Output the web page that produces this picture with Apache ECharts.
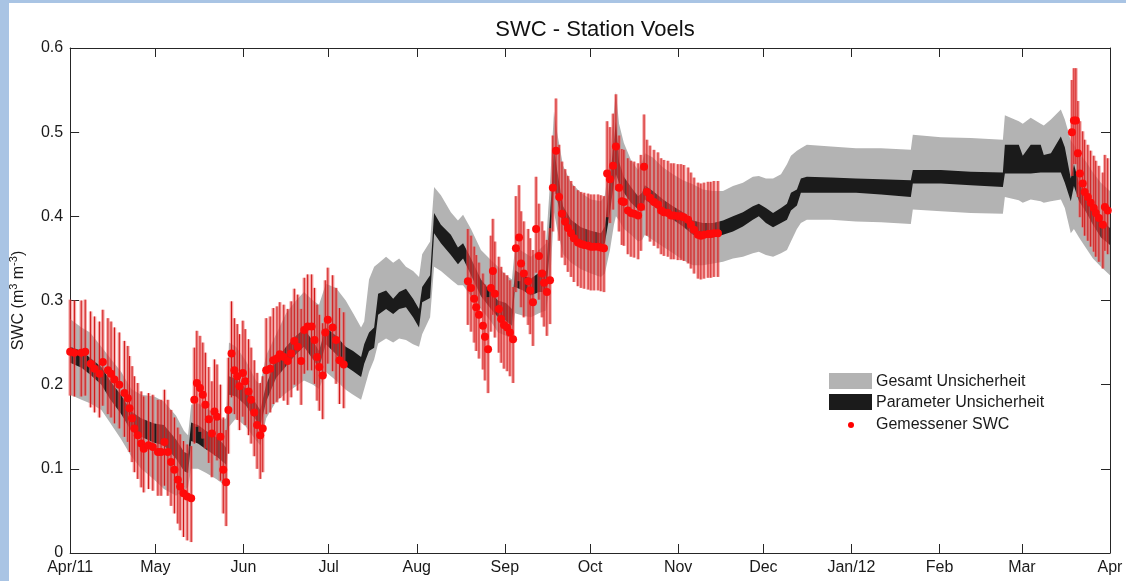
<!DOCTYPE html>
<html>
<head>
<meta charset="utf-8">
<title>SWC - Station Voels</title>
<script src="https://cdn.jsdelivr.net/npm/echarts@6/dist/echarts.min.js"></script>
<style>
  html, body { margin: 0; padding: 0; background: #fff; }
  #chart { position: absolute; left: 0; top: 0; width: 1126px; height: 581px; }
  .edge-left { position: absolute; left: 0; top: 0; width: 9px; height: 581px; background: #a9c4e4; }
  .edge-top { position: absolute; left: 0; top: 0; width: 1126px; height: 3px; background: #a9c4e4; }
</style>
</head>
<body>
<div id="chart"></div>
<div class="edge-left"></div>
<div class="edge-top"></div>
<script>
// x values are days since 2011-04-01
var monthDays = [0, 30, 61, 91, 122, 153, 183, 214, 244, 275, 306, 335, 366];
var monthLabels = ['Apr/11', 'May', 'Jun', 'Jul', 'Aug', 'Sep', 'Oct', 'Nov', 'Dec', 'Jan/12', 'Feb', 'Mar', 'Apr'];
var yTickLabels = ['0', '0.1', '0.2', '0.3', '0.4', '0.5', '0.6'];

// simulated SWC: total uncertainty (gray) and parameter uncertainty (black)
var modelDay = [
  0, 4, 7, 11, 14, 18, 21.5, 25, 29.6, 33,
  37.3, 40.1, 41.5, 42.6, 45, 47.9, 51.4, 53.8, 54.9, 55.9,
  58.4, 61.9, 65.4, 66.9, 69, 72.5, 76, 79.5, 82.3, 85.5,
  87.6, 90, 93.6, 97, 99.6, 102.4, 103.5, 105.2, 107, 108.4,
  111.2, 113.7, 115.8, 118.2, 120.7, 122.8, 123.9, 126.7, 128.1, 130.5,
  134, 136.5, 138.3, 141.1, 144.6, 148.1, 150.6, 153.4, 155.5, 156.6,
  159.4, 162.2, 165, 167.5, 168.9, 170.3, 171.4, 173.5, 176.3, 179.8,
  183.3, 186.8, 188.2, 190, 191.4, 192.1, 193.2, 194.9, 197.4, 199.9,
  201.3, 202.3, 205.1, 208.7, 212.2, 215.7, 219.2, 222.7, 226.3, 229.8,
  233.3, 236.8, 240.3, 242.4, 244.9, 247.4, 250.2, 252.3, 253.7, 255.8,
  257.2, 259.3, 267.8, 276.6, 285.4, 295.9, 296.6, 306.5, 317, 328.3,
  329, 333.9, 335.3, 338.1, 341.6, 342.7, 345.2, 348.7, 350.1, 352.2,
  353.3, 355.1, 357.6, 360, 362.8, 366
];
var grayHigh = [
  .278, .268, .262, .245, .232, .215, .195, .188, .186, .180,
  .163, .145, .140, .176, .178, .172, .165, .158, .160, .250,
  .245, .228, .205, .200, .235, .260, .285, .300, .310, .300,
  .295, .320, .315, .300, .285, .268, .275, .325, .340, .344,
  .352, .345, .350, .340, .335, .328, .355, .370, .435, .425,
  .405, .395, .402, .385, .360, .348, .340, .330, .325, .364,
  .358, .352, .360, .368, .440, .525, .500, .460, .440, .428,
  .420, .418, .425, .470, .525, .548, .510, .487, .467, .455,
  .465, .475, .470, .458, .450, .443, .438, .432, .430, .430,
  .436, .440, .447, .448, .445, .445, .450, .462, .472, .478,
  .481, .485, .483, .481, .481, .479, .497, .494, .493, .491,
  .520, .513, .510, .517, .510, .508, .515, .527, .515, .490,
  .485, .475, .465, .452, .440, .430
];
var blackHigh = [
  .245, .240, .232, .221, .205, .187, .168, .160, .154, .152,
  .135, .120, .118, .155, .152, .145, .138, .130, .125, .210,
  .207, .195, .178, .170, .200, .230, .245, .258, .266, .252,
  .240, .268, .258, .245, .240, .233, .248, .262, .268, .308,
  .312, .302, .310, .314, .302, .290, .316, .330, .404, .390,
  .378, .363, .368, .350, .325, .310, .300, .297, .290, .336,
  .330, .326, .333, .335, .400, .480, .455, .412, .396, .387,
  .383, .380, .388, .445, .490, .512, .465, .447, .435, .424,
  .428, .437, .430, .420, .412, .405, .395, .392, .392, .395,
  .400, .405, .412, .415, .410, .404, .410, .415, .428, .432,
  .445, .447, .446, .445, .444, .443, .455, .455, .453, .452,
  .485, .485, .472, .485, .485, .473, .475, .495, .482, .445,
  .462, .440, .425, .410, .396, .386
];
var blackLow = [
  .226, .220, .212, .200, .183, .165, .145, .138, .131, .128,
  .112, .097, .095, .133, .130, .123, .115, .108, .105, .188,
  .186, .175, .158, .150, .180, .208, .222, .236, .245, .230,
  .220, .248, .236, .222, .216, .209, .225, .240, .244, .283,
  .290, .284, .290, .292, .280, .268, .298, .303, .380, .368,
  .354, .343, .350, .330, .305, .290, .280, .276, .270, .316,
  .312, .306, .310, .310, .360, .440, .420, .390, .378, .371,
  .368, .365, .368, .405, .440, .450, .440, .428, .416, .408,
  .410, .420, .413, .404, .396, .388, .378, .375, .375, .378,
  .382, .388, .396, .400, .392, .387, .392, .396, .407, .413,
  .428, .428, .428, .428, .426, .423, .439, .439, .437, .435,
  .451, .451, .451, .451, .452, .452, .452, .452, .440, .418,
  .436, .418, .405, .390, .375, .366
];
var grayLow = [
  .188, .182, .178, .170, .155, .135, .115, .100, .087, .076,
  .068, .075, .078, .100, .100, .095, .088, .082, .085, .150,
  .160, .150, .134, .128, .160, .180, .190, .198, .205, .200,
  .195, .215, .205, .194, .188, .182, .195, .215, .230, .249,
  .255, .250, .255, .253, .248, .245, .260, .280, .340, .335,
  .325, .318, .318, .305, .290, .275, .262, .258, .255, .285,
  .282, .280, .285, .288, .320, .405, .385, .355, .345, .337,
  .332, .328, .332, .360, .390, .400, .395, .385, .378, .370,
  .372, .378, .372, .364, .356, .348, .342, .342, .344, .346,
  .350, .352, .356, .358, .354, .352, .356, .360, .370, .385,
  .392, .396, .396, .394, .393, .391, .408, .406, .404, .403,
  .423, .419, .416, .420, .418, .416, .418, .420, .410, .380,
  .385, .375, .362, .350, .340, .330
];

// measured SWC (red dots) and error bar extent
var measDay = [
  0, 1.5, 3.9, 5.3, 7.2, 8.6, 10.3, 11.5, 13.3, 14.4,
  15.6, 17.3, 19.1, 20.3, 20.9, 21.8, 22.6, 23.8, 25, 25.9,
  27.6, 29.1, 30.9, 32, 33.2, 34.4, 35.5, 36.7, 37.9, 38.7,
  39.9, 41.2, 42.6, 43.7, 44.6, 45.7, 46.7, 47.6, 48.8, 49.9,
  50.8, 51.7, 52.9, 53.9, 54.9, 55.7, 56.8, 57.8, 58.8, 59.6,
  60.8, 61.6, 62.8, 63.7, 64.8, 65.8, 66.9, 67.8, 69, 70.4,
  71.5, 72.8, 73.8, 75.2, 76.6, 77.8, 78.9, 80.1, 81.3, 82.4,
  83.6, 85, 86, 86.9, 87.7, 88.9, 89.8, 90.7, 92.4, 93.6,
  94.8, 96.3,
  140, 141.1, 142.2, 142.9, 143.9, 145.3, 146, 147.1, 148.1, 148.8,
  149.5, 150.9, 151.7, 152.7, 153.8, 154.8, 155.9, 156.9, 158, 158.7,
  159.7, 161.2, 161.9, 162.9, 164, 165, 166.1, 166.8, 167.8, 168.9,
  169.9, 171, 172.1, 173.1, 174.2, 175.2, 176.3, 177.3, 178.7, 179.8,
  180.9, 182.3, 183.3, 184.4, 185.8, 186.8, 187.9, 189, 190, 191.1,
  192.1, 193.2, 194.2, 194.9, 196.3, 197.4, 198.5, 199.9, 200.9, 202,
  203, 204.1, 205.5, 206.9, 208, 209, 210.4, 211.5, 212.5, 213.9,
  215, 216, 217.5, 218.5, 219.6, 221, 222, 223.1, 224.5, 225.5,
  226.6, 228,
  352.6, 353.3, 354, 354.7, 355.4, 356.4, 357.1, 358.2, 359.2, 360.3,
  361, 362.1, 363.5, 364.2, 365.2
];
var measSWC = [
  .239, .238, .238, .239, .225, .219, .213, .227, .217, .213,
  .206, .200, .190, .184, .172, .160, .148, .140, .130, .124,
  .128, .126, .120, .120, .132, .120, .108, .099, .087, .079,
  .071, .067, .065, .182, .202, .196, .188, .176, .159, .142,
  .168, .162, .138, .099, .084, .170, .237, .217, .210, .198,
  .214, .204, .192, .182, .167, .152, .140, .148, .217, .219,
  .229, .231, .236, .233, .228, .237, .252, .245, .228, .265,
  .269, .269, .253, .233, .221, .211, .262, .277, .268, .253,
  .229, .224,
  .323, .315, .302, .292, .283, .270, .257, .242, .315, .335,
  .308, .290, .278, .271, .268, .262, .254, .362, .375, .344,
  .332, .323, .312, .298, .385, .353, .332, .321, .310, .324,
  .434, .478, .423, .403, .394, .386, .380, .374, .369, .367,
  .366, .365, .364, .364, .364, .363, .362, .451, .444, .460,
  .483, .434, .418, .417, .407, .404, .403, .401, .411, .459,
  .429, .422, .417, .414, .407, .405, .404, .401, .401, .400,
  .400, .399, .396, .390, .384, .378, .377, .378, .379, .379,
  .380, .380,
  .500, .514, .514, .475, .451, .439, .429, .423, .416, .410,
  .404, .398, .390, .411, .407
];
var errUp = 0.062;
var errDown = 0.052;

var FONT = '"Liberation Sans", Arial, Helvetica, sans-serif';
var AXIS_COLOR = '#262626';

function bandSeries(name, lo, hi, color, z) {
  return {
    name: name,
    type: 'custom',
    silent: true,
    z: z,
    data: [[0, 0]],
    encode: { x: 0, y: 1 },
    renderItem: function (params, api) {
      var pts = [];
      for (var i = 0; i < modelDay.length; i++) pts.push(api.coord([modelDay[i], hi[i]]));
      for (var j = modelDay.length - 1; j >= 0; j--) pts.push(api.coord([modelDay[j], lo[j]]));
      return { type: 'polygon', shape: { points: pts }, style: { fill: color } };
    }
  };
}

var barData = measDay.map(function (d, i) { return [d, measSWC[i] - errDown, measSWC[i] + errUp]; });
var dotData = measDay.map(function (d, i) { return [d, measSWC[i]]; });

function xAxisBase(pos) {
  return {
    type: 'value', min: 0, max: 366, position: pos,
    axisLine: { show: true, onZero: false, lineStyle: { color: AXIS_COLOR, width: 1 } },
    axisTick: { show: true, inside: true, length: 9, customValues: monthDays, lineStyle: { color: AXIS_COLOR } },
    splitLine: { show: false }
  };
}
function yAxisBase(pos) {
  return {
    type: 'value', min: 0, max: 0.6, interval: 0.1, position: pos,
    axisLine: { show: true, onZero: false, lineStyle: { color: AXIS_COLOR, width: 1 } },
    axisTick: { show: true, inside: true, length: 9, lineStyle: { color: AXIS_COLOR } },
    splitLine: { show: false }
  };
}

var xBottom = xAxisBase('bottom');
xBottom.axisLabel = {
  customValues: monthDays, margin: 7, fontSize: 16, color: '#1a1a1a', fontFamily: FONT,
  formatter: function (v) { return monthLabels[monthDays.indexOf(v)]; }
};
var xTop = xAxisBase('top');
xTop.axisLabel = { show: false };

var yLeft = yAxisBase('left');
yLeft.axisLabel = {
  margin: 7, fontSize: 16, color: '#1a1a1a', fontFamily: FONT,
  formatter: function (v) { return yTickLabels[Math.round(v * 10)]; }
};
// superscripts drawn as rich text fragments
yLeft.name = 'SWC (m{sup|3} m{sup|-3})';
yLeft.nameLocation = 'middle';
yLeft.nameRotate = 90;
yLeft.nameGap = 40;
yLeft.nameTextStyle = {
  fontSize: 16, color: '#1a1a1a', fontFamily: FONT, lineHeight: 22,
  rich: { sup: { fontSize: 11, color: '#1a1a1a', fontFamily: FONT, verticalAlign: 'top', lineHeight: 22 } }
};
var yRight = yAxisBase('right');
yRight.axisLabel = { show: false };

var myChart = echarts.init(document.getElementById('chart'));
var option = {
  backgroundColor: '#fff',
  animation: false,
  title: {
    text: 'SWC - Station Voels',
    left: 590, top: 14, textAlign: 'center',
    textStyle: { fontSize: 22, fontWeight: 'normal', color: '#111', fontFamily: FONT }
  },
  grid: { left: 69, right: 16, top: 48, bottom: 28, containLabel: false },
  xAxis: [xBottom, xTop],
  yAxis: [yLeft, yRight],
  series: [
    bandSeries('Gesamt Unsicherheit', grayLow, grayHigh, '#b3b3b3', 1),
    bandSeries('Parameter Unsicherheit', blackLow, blackHigh, '#1b1b1b', 2),
    {
      name: 'Fehlerbalken',
      type: 'custom',
      silent: true,
      z: 3,
      data: barData,
      encode: { x: 0, y: [1, 2] },
      renderItem: function (params, api) {
        var p1 = api.coord([api.value(0), api.value(1)]);
        var p2 = api.coord([api.value(0), api.value(2)]);
        return {
          type: 'group',
          children: [
            { type: 'line', shape: { x1: p1[0], y1: p1[1], x2: p2[0], y2: p2[1] },
              style: { stroke: 'rgba(236, 96, 96, 0.55)', lineWidth: 3.5 } },
            { type: 'line', shape: { x1: p1[0], y1: p1[1], x2: p2[0], y2: p2[1] },
              style: { stroke: '#d01414', lineWidth: 1 } }
          ]
        };
      }
    },
    {
      name: 'Gemessener SWC',
      type: 'scatter',
      z: 4,
      symbol: 'circle',
      symbolSize: 8,
      itemStyle: { color: '#ff0a0a', opacity: 1 },
      data: dotData
    }
  ],
  graphic: [
    { type: 'rect', shape: { x: 829, y: 373, width: 43, height: 16 }, style: { fill: '#b3b3b3' } },
    { type: 'rect', shape: { x: 829, y: 394, width: 43, height: 16 }, style: { fill: '#1b1b1b' } },
    { type: 'circle', shape: { cx: 851, cy: 425, r: 3 }, style: { fill: '#ff0000' } },
    { type: 'text', style: { text: 'Gesamt Unsicherheit', x: 876, y: 382, verticalAlign: 'middle', fontSize: 16, fontFamily: FONT, fill: '#1a1a1a' } },
    { type: 'text', style: { text: 'Parameter Unsicherheit', x: 876, y: 403, verticalAlign: 'middle', fontSize: 16, fontFamily: FONT, fill: '#1a1a1a' } },
    { type: 'text', style: { text: 'Gemessener SWC', x: 876, y: 425, verticalAlign: 'middle', fontSize: 16, fontFamily: FONT, fill: '#1a1a1a' } }
  ]
};
myChart.setOption(option);
</script>
</body>
</html>
